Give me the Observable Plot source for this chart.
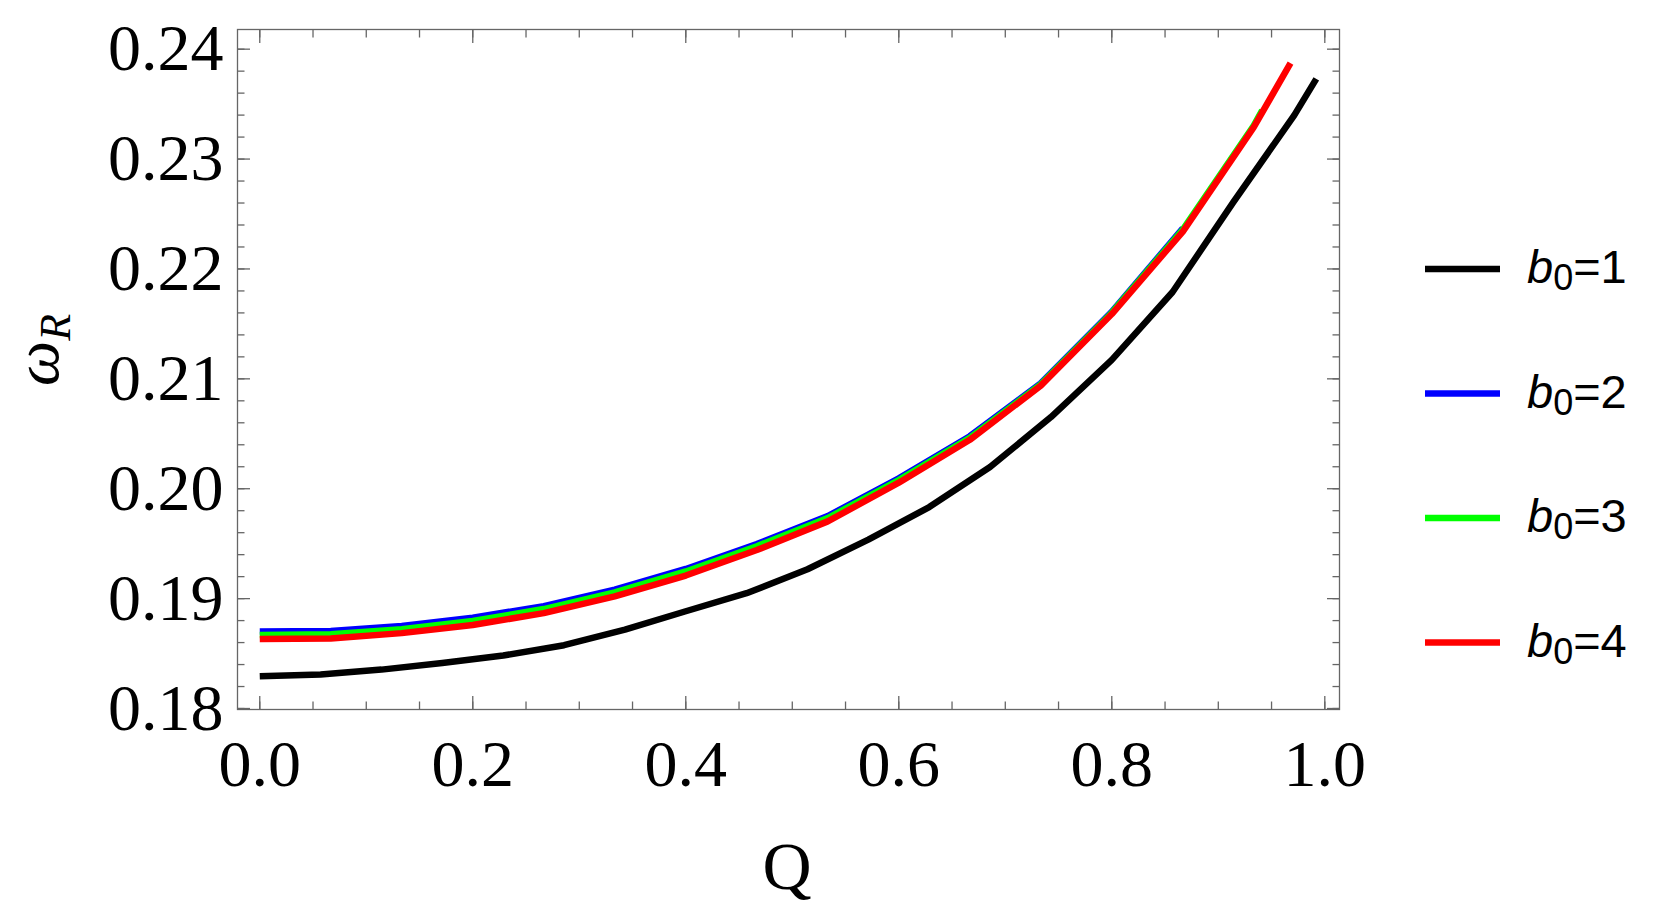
<!DOCTYPE html>
<html>
<head>
<meta charset="utf-8">
<script src="https://cdn.jsdelivr.net/npm/d3@7"></script>
<script src="https://cdn.jsdelivr.net/npm/@observablehq/plot@0.6"></script>
<style>
  html, body { margin: 0; padding: 0; background: #fff; }
  #chart { position: relative; width: 1661px; height: 912px; }
</style>
</head>
<body>
<div id="chart"></div>
<script>
// ---- data ----
const qBlack = [0, 0.0571, 0.1143, 0.1714, 0.2286, 0.2857, 0.3429, 0.4, 0.4571, 0.5143, 0.5714, 0.6286, 0.6857, 0.7429, 0.8, 0.8571, 0.9143, 0.9714, 0.992];
const wBlack = [0.18293, 0.18310, 0.18354, 0.18414, 0.18482, 0.18576, 0.18717, 0.18885, 0.19049, 0.19267, 0.19537, 0.19833, 0.20197, 0.20652, 0.21172, 0.21790, 0.22610, 0.23400, 0.23730];

const qBlue = [0, 0.0667, 0.1333, 0.2, 0.2667, 0.3333, 0.4, 0.4667, 0.5333, 0.6, 0.6667, 0.7333, 0.8, 0.8667];
const wBlue = [0.18700, 0.18706, 0.18752, 0.18826, 0.18932, 0.19082, 0.19270, 0.19497, 0.19751, 0.20095, 0.20478, 0.20960, 0.21610, 0.22370];

const qGreen = [0, 0.0667, 0.1333, 0.2, 0.2667, 0.3333, 0.4, 0.4667, 0.5333, 0.6, 0.6667, 0.7333, 0.8, 0.8667, 0.9333, 0.9412];
const wGreen = [0.18669, 0.18675, 0.18722, 0.18797, 0.18905, 0.19057, 0.19247, 0.19477, 0.19733, 0.20078, 0.20463, 0.20950, 0.21602, 0.22358, 0.23305, 0.23443];

const qRed = [0, 0.0667, 0.1333, 0.2, 0.2667, 0.3333, 0.4, 0.4667, 0.5333, 0.6, 0.6667, 0.7333, 0.8, 0.8667, 0.9333, 0.9678];
const wRed = [0.18632, 0.18638, 0.18686, 0.18760, 0.18868, 0.19020, 0.19210, 0.19442, 0.19703, 0.20055, 0.20445, 0.20938, 0.21590, 0.22340, 0.23290, 0.23874];

const seriesNames = ["1", "2", "3", "4"];
const seriesColors = ["#000000", "#0000ff", "#00ff00", "#ff0000"];

const xMajorTicks = [0, 0.2, 0.4, 0.6, 0.8, 1.0];
const xMinorTicks = d3.range(0, 1.0001, 0.05);
const yMajorTicks = [0.18, 0.19, 0.20, 0.21, 0.22, 0.23, 0.24];
const yMinorTicks = d3.range(0.18, 0.2401, 0.002);

const xLabel = "Q";

// ---- build tables ----
const toRows = (qs, ws, name) => qs.map((q, i) => ({Q: q, w: ws[i], b0: name}));
const series = [
  toRows(qBlack, wBlack, seriesNames[0]),
  toRows(qBlue, wBlue, seriesNames[1]),
  toRows(qGreen, wGreen, seriesNames[2]),
  toRows(qRed, wRed, seriesNames[3])
];

const frameColor = "#666666";
const serif = "'Liberation Serif', 'Times New Roman', serif";
const sans = "'Liberation Sans', Arial, sans-serif";

const tickMarks = (anchor, ticks, size) => {
  const common = {anchor, tickSize: size, tickFormat: () => "", label: null, stroke: frameColor, strokeWidth: 1.3};
  if (anchor === "left") return Plot.axisY(ticks, {...common, dx: size});
  if (anchor === "right") return Plot.axisY(ticks, {...common, dx: -size});
  if (anchor === "bottom") return Plot.axisX(ticks, {...common, dy: -size});
  return Plot.axisX(ticks, {...common, dy: size});
};

const plot = Plot.plot({
  width: 1661,
  height: 912,
  marginLeft: 237,
  marginRight: 322,
  marginTop: 29,
  marginBottom: 203,
  x: {domain: [-0.0209, 1.0138]},
  y: {domain: [0.17991, 0.24179]},
  style: {background: "white", fontFamily: serif, color: "black"},
  marks: [
    ...series.map((rows, i) => Plot.line(rows, {
      x: "Q", y: "w", stroke: seriesColors[i], strokeWidth: 6.5,
      strokeLinecap: "butt", strokeLinejoin: "round"
    })),
    Plot.frame({stroke: frameColor, strokeWidth: 1.3}),
    tickMarks("left", yMinorTicks, 7.5),
    tickMarks("left", yMajorTicks, 13),
    tickMarks("right", yMinorTicks, 7.5),
    tickMarks("right", yMajorTicks, 13),
    tickMarks("bottom", xMinorTicks, 7.5),
    tickMarks("bottom", xMajorTicks, 13),
    tickMarks("top", xMinorTicks, 7.5),
    tickMarks("top", xMajorTicks, 13),
    Plot.axisY(yMajorTicks, {
      anchor: "left", tickSize: 0, tickPadding: 14, label: null,
      tickFormat: d3.format(".2f"), fontSize: 66, fontFamily: serif, fill: "black"
    }),
    Plot.axisX(xMajorTicks, {
      anchor: "bottom", tickSize: 0, tickPadding: 30, label: null,
      tickFormat: d3.format(".1f"), fontSize: 66, fontFamily: serif, fill: "black"
    })
  ]
});

const svg = d3.select(plot);

// x-axis label
svg.append("text")
  .attr("x", 787).attr("y", 889)
  .attr("text-anchor", "middle")
  .style("font-family", serif).style("font-size", "68px").attr("fill", "black")
  .text(xLabel);

// y-axis label  ω_R
const yl = svg.append("text")
  .attr("transform", "translate(58,350) rotate(-90)")
  .attr("text-anchor", "middle")
  .style("font-family", serif).attr("fill", "black");
yl.append("tspan").style("font-size", "64px").style("font-style", "italic").text("ω");
yl.append("tspan").style("font-size", "44px").style("font-style", "italic")
  .attr("dy", 12).text("R");

// legend
const legendTop = 269, legendStep = 124.5;
seriesNames.forEach((name, i) => {
  const y = legendTop + i * legendStep;
  svg.append("line")
    .attr("x1", 1425).attr("x2", 1500).attr("y1", y).attr("y2", y)
    .attr("stroke", seriesColors[i]).attr("stroke-width", 6.5);
  const t = svg.append("text")
    .attr("x", 1527).attr("y", y + 14)
    .attr("text-anchor", "start")
    .style("font-family", sans).style("font-size", "47px").attr("fill", "black");
  t.append("tspan").style("font-style", "italic").text("b");
  t.append("tspan").style("font-size", "36px").attr("dy", 7).text("0");
  t.append("tspan").attr("dy", -7).text("=" + name);
});

document.getElementById("chart").appendChild(plot);
</script>
</body>
</html>
